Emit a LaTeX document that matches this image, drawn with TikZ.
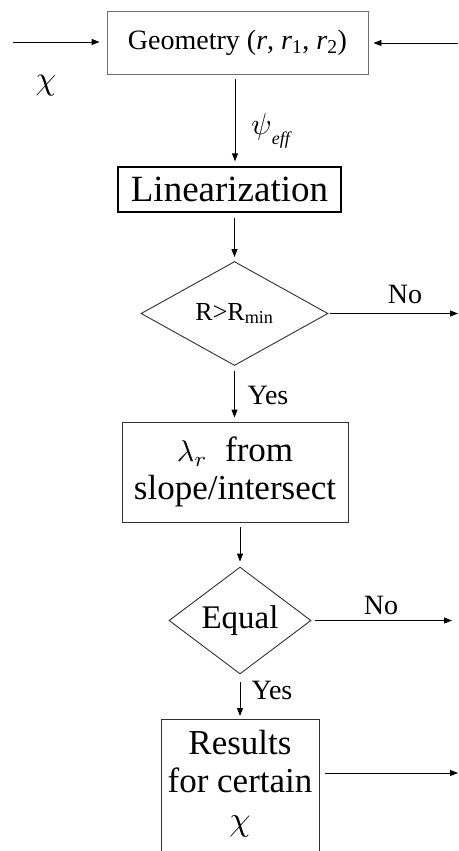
\documentclass[tikz,border=0pt]{standalone}
\usepackage{graphicx}
\usepackage{fontspec}
\setmainfont{Liberation Serif}
\usetikzlibrary{arrows.meta,shapes.geometric}
\definecolor{boxgray}{HTML}{707070}
\definecolor{dk}{HTML}{303030}
\newcommand{\bigmath}[2]{\scalebox{#1}{\fontsize{10}{12}\selectfont$#2$}}
\tikzset{
  arr/.style={draw=black, line width=0.9pt, -{Triangle[length=8pt,width=6pt]}},
  plainbox/.style={draw=dk, line width=0.9pt, inner sep=0pt, align=center},
  dia/.style={diamond, draw=dk, line width=0.9pt, inner sep=0pt, align=center},
  lbl/.style={inner sep=0pt, font=\fontsize{28}{32}\selectfont}
}
\begin{document}
\begin{tikzpicture}[x=1pt,y=-1pt]
\useasboundingbox (0,0) rectangle (458,851);
\clip (0,0) rectangle (458,851);
% nodes
\node[plainbox, draw=boxgray, minimum width=261, minimum height=63, font=\fontsize{28}{32}\selectfont] (geo) at (237.5,42.5)
  {Geometry (\textit{r}, \textit{r}\textsubscript{1}, \textit{r}\textsubscript{2})};
\node[plainbox, draw=black, line width=1.3pt, minimum width=223, minimum height=45, font=\fontsize{37}{40}\selectfont] (lin) at (229.5,189.5) {Linearization};
\node[dia, minimum width=187, minimum height=104, font=\fontsize{26}{28}\selectfont] (d1) at (234.5,313.5) {R>R\textsubscript{min}};
\node[plainbox, minimum width=226, minimum height=100, font=\fontsize{35}{38}\selectfont] (lam) at (235,472)
  {\bigmath{3.0}{\lambda_{r}}\ \ from\\slope/intersect};
\node[dia, minimum width=142, minimum height=81, font=\fontsize{33}{36}\selectfont] (d2) at (240,620.5) {Equal};
\node[plainbox, anchor=north, minimum width=158, inner ysep=11pt, text depth=80pt, font=\fontsize{35}{38}\selectfont] (res) at (240,719)
  {Results\\for certain\\\bigmath{3.4}{\chi}};
% side labels
\node[inner sep=0pt] (chi) at (46,86) {\bigmath{3.3}{\chi}};
\node[inner sep=0pt, anchor=west] (psi) at (251,131) {\bigmath{3.0}{\psi}\textsubscript{\fontsize{18}{20}\selectfont\textit{eff}}};
\node[lbl] (no1) at (405,294) {No};
\node[lbl] (yes1) at (268,395) {Yes};
\node[lbl] (no2) at (381,605) {No};
\node[lbl] (yes2) at (272,690) {Yes};
% free ends
\coordinate (inL) at (13,42);
\coordinate (inR) at (458,43);
\coordinate (out1) at (458,313.5);
\coordinate (out2) at (452,620.5);
\coordinate (out3) at (458,773);
% connectors
\draw[arr, shorten >=7pt] (inL) -- (inL -| geo.west);
\draw[arr, shorten >=5pt] (inR) -- (inR -| geo.east);
\draw[arr, shorten <=5pt, shorten >=5pt] ([xshift=-2.5pt]geo.south) -- ([xshift=-2.5pt]geo.south |- lin.north);
\draw[arr, shorten <=5pt, shorten >=4pt] (lin.south -| d1.north) -- (d1.north);
\draw[arr, shorten <=2pt] (d1.east) -- (out1);
\draw[arr, shorten <=5pt, shorten >=4pt] (d1.south) -- (d1.south |- lam.north);
\draw[arr, shorten <=5pt, shorten >=5pt] (lam.south -| d2.north) -- (d2.north);
\draw[arr, shorten <=4pt] (d2.east) -- (out2);
\draw[arr, shorten <=8pt, shorten >=3pt] (d2.south) -- (res.north);
\draw[arr, shorten <=6pt] ([yshift=-54pt]res.north east) -- (out3);
\end{tikzpicture}
\end{document}
